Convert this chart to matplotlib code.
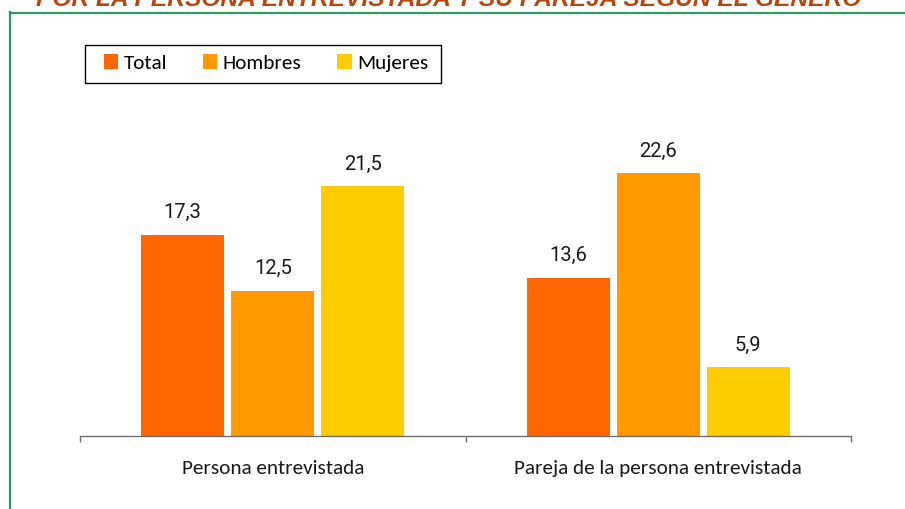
import matplotlib
matplotlib.use("Agg")
import matplotlib.pyplot as plt
from matplotlib.lines import Line2D
from matplotlib.patches import Rectangle
import numpy as np

categories = ["Persona entrevistada", "Pareja de la persona entrevistada"]
series_names = ["Total", "Hombres", "Mujeres"]
total = [17.3, 13.6]
hombres = [12.5, 22.6]
mujeres = [21.5, 5.9]
series_values = [total, hombres, mujeres]
colors = ["#FF6600", "#FF9900", "#FFCC00"]
title = "POR LA PERSONA ENTREVISTADA Y SU PAREJA SEGÚN EL GÉNERO"

W, H = 905, 509
fig = plt.figure(figsize=(W / 100, H / 100), dpi=100)
fig.patch.set_facecolor("white")

label_font = ["Carlito", "Lato", "DejaVu Sans"]
num_font = ["Liberation Sans Narrow", "Roboto", "DejaVu Sans"]

ax = fig.add_axes([80 / W, 73 / H, 771 / W, 290.5 / H])
ax.set_xlim(0, 2)
ax.set_ylim(0, 25)

width = 0.215
offsets = [-0.2335, 0.0, 0.2335]
x = np.arange(len(categories)) + 0.5
for vals, name, col, off in zip(series_values, series_names, colors, offsets):
    bars = ax.bar(x + off, vals, width=width, color=col, label=name, zorder=2)
    for b, v in zip(bars, vals):
        ax.annotate(f"{v:.1f}".replace(".", ","),
                    xy=(b.get_x() + b.get_width() / 2, b.get_height()),
                    xytext=(0, 12), textcoords="offset points",
                    ha="center", va="baseline", fontsize=14.5,
                    family=num_font, color="#1a1a1a")

for s in ["top", "right", "left"]:
    ax.spines[s].set_visible(False)
ax.spines["bottom"].set_color("#6f6f6f")
ax.spines["bottom"].set_linewidth(1.0)
ax.set_yticks([])
ax.set_xticks([0, 1, 2])
ax.set_xticklabels([])
ax.tick_params(axis="x", length=4.5, width=1.0, color="#6f6f6f", direction="out")
for xi, c in zip(x, categories):
    ax.text(xi, -0.112, c, transform=ax.get_xaxis_transform(), ha="center",
            va="center", fontsize=15.2, family=label_font, color="#1a1a1a")

# legend box
fig.add_artist(Rectangle((85 / W, 1 - 83 / H), 356 / W, 38 / H,
                         transform=fig.transFigure, facecolor="white",
                         edgecolor="black", lw=1.0, zorder=3))
leg = fig.legend(loc="upper left", bbox_to_anchor=(104 / W, 1 - 54 / H),
                 ncol=3, frameon=False,
                 prop={"family": label_font, "size": 15.2},
                 handlelength=0.68, handleheight=0.68, handletextpad=0.25,
                 columnspacing=1.7, borderpad=0, borderaxespad=0)
leg.set_zorder(4)

# green frame lines
fig.add_artist(Line2D([10 / W, 1], [1 - 12.7 / H, 1 - 12.7 / H], color="#2E9A64", lw=1.6))
fig.add_artist(Line2D([10 / W, 10 / W], [0, 1 - 11.9 / H], color="#2E9A64", lw=1.6))

# title partially cut at top
t = fig.text(448.5 / W, 1 - 6 / H, title, ha="center", va="baseline",
             fontsize=17, fontweight="bold", fontstyle="italic",
             family=["Liberation Sans Narrow", "Liberation Sans", "DejaVu Sans"],
             color="#B8440E")
fig.canvas.draw()
wpx = t.get_window_extent().width
t.set_fontsize(17 * 823 / wpx)

fig.savefig("out.png", dpi=100)
